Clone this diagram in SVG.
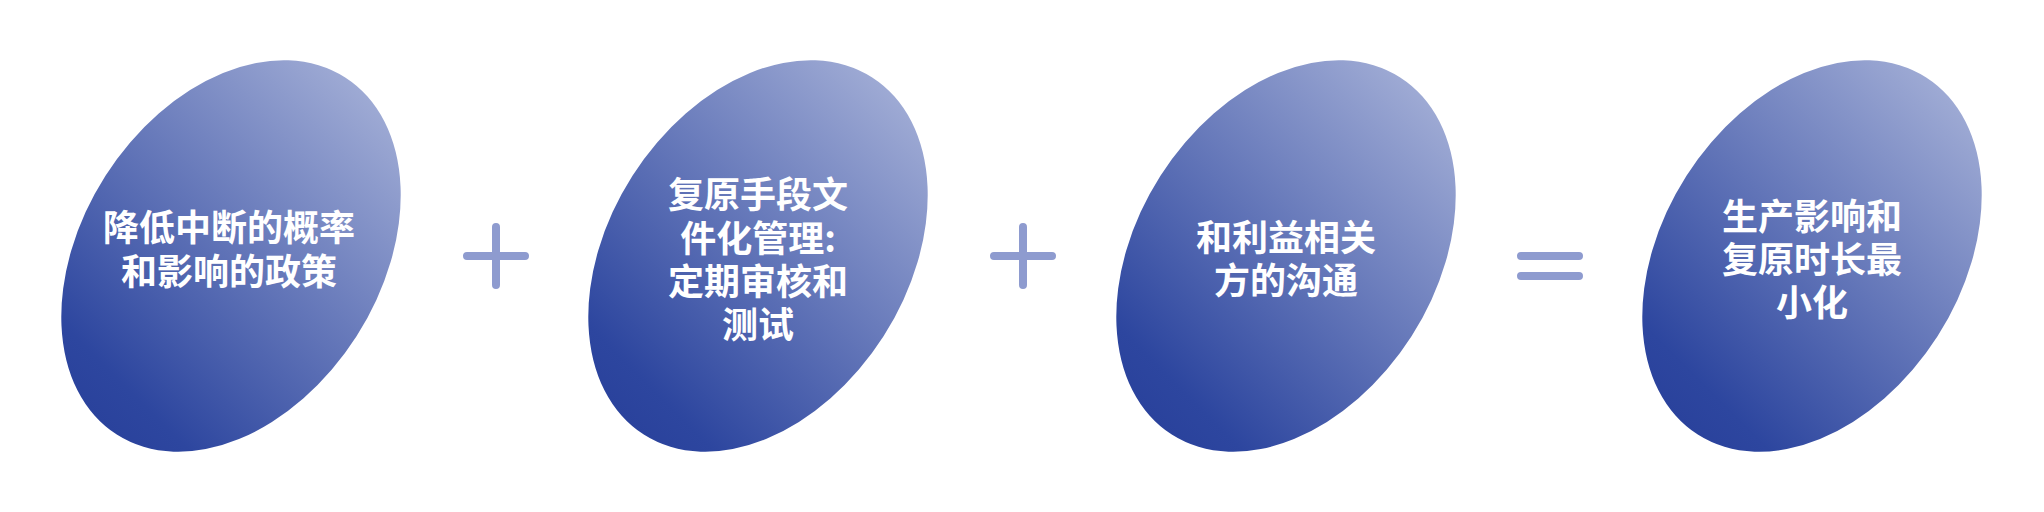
<svg xmlns="http://www.w3.org/2000/svg" width="2044" height="512" viewBox="0 0 2044 512">
  <style>
    .blob { fill: url(#g); }
    .lbl { font-family: "Noto Sans CJK SC", "Noto Sans", "Liberation Sans", sans-serif; font-size: 36px; font-weight: 700; fill: #ffffff; text-anchor: middle; }
    .op { stroke: #8E9BCF; stroke-width: 8; stroke-linecap: round; fill: none; }
  </style>
  <defs>
    <linearGradient id="g" gradientUnits="userSpaceOnUse" x1="-45" y1="205" x2="45" y2="-205">
      <stop offset="0" stop-color="#2A429C"/>
      <stop offset="0.1" stop-color="#2D469F"/>
      <stop offset="1" stop-color="#9EAAD4"/>
    </linearGradient>
  </defs>
  <rect width="2044" height="512" fill="#ffffff"/>

  <g id="node1">
    <ellipse class="blob" cx="0" cy="0" rx="149" ry="212" transform="translate(231,256) rotate(32.6)"/>
    <text class="lbl" x="229" y="241">降低中断的概率</text>
    <text class="lbl" x="229" y="285">和影响的政策</text>
  </g>

  <g id="node2">
    <ellipse class="blob" cx="0" cy="0" rx="149" ry="212" transform="translate(758,256) rotate(32.6)"/>
    <text class="lbl" x="758" y="208">复原手段文</text>
    <text class="lbl" x="758" y="252">件化管理:</text>
    <text class="lbl" x="758" y="295">定期审核和</text>
    <text class="lbl" x="758" y="338">测试</text>
  </g>

  <g id="node3">
    <ellipse class="blob" cx="0" cy="0" rx="149" ry="212" transform="translate(1286,256) rotate(32.6)"/>
    <text class="lbl" x="1286" y="251">和利益相关</text>
    <text class="lbl" x="1286" y="294">方的沟通</text>
  </g>

  <g id="node4">
    <ellipse class="blob" cx="0" cy="0" rx="149" ry="212" transform="translate(1812,256) rotate(32.6)"/>
    <text class="lbl" x="1812" y="230">生产影响和</text>
    <text class="lbl" x="1812" y="273">复原时长最</text>
    <text class="lbl" x="1812" y="316">小化</text>
  </g>

  <g id="operators">
    <path class="op" d="M467,256 H525 M496,227 V285"/>
    <path class="op" d="M994,256 H1052 M1023,227 V285"/>
    <path class="op" d="M1521,256 H1579 M1521,276 H1579"/>
  </g>
</svg>
